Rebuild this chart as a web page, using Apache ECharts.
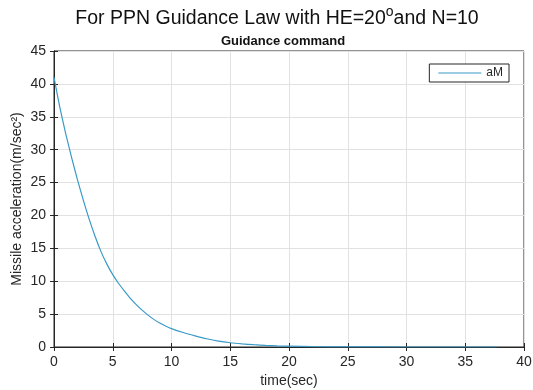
<!DOCTYPE html>
<html>
<head>
<meta charset="utf-8">
<script src="https://cdn.jsdelivr.net/npm/echarts@6/dist/echarts.min.js"></script>
<style>
  html, body { margin: 0; padding: 0; background: #fff; }
  #chart { width: 533px; height: 390px; }
</style>
</head>
<body>
<div id="chart"></div>
<script>
// values
const timeSec = [0, 0.5, 1, 1.5, 2, 2.5, 3, 3.5, 4, 4.5, 5, 5.5, 6, 6.5, 7, 7.5, 8, 8.5, 9, 9.5, 10, 11, 12, 13, 14, 15, 16, 17, 18, 19, 20, 22, 25, 30, 37.7]
const accel = [41.0, 36.4, 32.4, 28.8, 25.4, 22.3, 19.4, 16.8, 14.5, 12.6, 11.0, 9.65, 8.5, 7.4, 6.45, 5.6, 4.85, 4.2, 3.65, 3.2, 2.8, 2.2, 1.7, 1.25, 0.9, 0.65, 0.48, 0.35, 0.25, 0.17, 0.12, 0.05, 0.02, 0, 0]

const xTicks = { min: 0, max: 40, interval: 5 }
const yTicks = { min: 0, max: 45, interval: 5 }

const ink = '#262626'
const font = '"Liberation Sans", Arial, sans-serif'

const seriesData = timeSec.map((t, i) => [t, accel[i]])

const chart = echarts.init(document.getElementById('chart'))

// shared look for the box axes (matlab style, ticks pointing inward)
const boxAxis = (extra) => ({
	type: 'value',
	axisLine: { show: true, lineStyle: { color: ink, width: 1 } },
	axisTick: { show: true, inside: true, length: 4, lineStyle: { color: ink } },
	...extra,
})

chart.setOption({
	animation: false,
	textStyle: { fontFamily: font },
	title: [
		{
			text: '{a|For PPN Guidance Law with HE=20}{s|o}{a|and N=10}',
			left: 272,
			top: 0,
			textAlign: 'center',
			textStyle: {
				fontWeight: 'normal',
				rich: {
					a: { fontSize: 19.5, fontWeight: 'normal', color: '#111', fontFamily: font, lineHeight: 24, verticalAlign: 'bottom' },
					s: { fontSize: 14, fontWeight: 'normal', color: '#111', fontFamily: font, lineHeight: 24, verticalAlign: 'top', padding: [0, 0, 8, 0] },
				},
			},
		},
		{
			text: 'Guidance command',
			left: 278,
			top: 30,
			textAlign: 'center',
			textStyle: { fontSize: 13, fontWeight: 'bold', color: '#111', fontFamily: font },
		},
	],
	legend: {
		data: ['aM'],
		right: 24,
		top: 64,
		orient: 'vertical',
		backgroundColor: '#fff',
		borderColor: ink,
		borderWidth: 1,
		borderRadius: 0,
		padding: [3, 6, 3, 9],
		itemWidth: 43,
		itemHeight: 10,
		itemGap: 4,
		icon: 'path://M0,5 L43,5 L43,6 L0,6 Z',
		textStyle: { fontSize: 12, color: ink, fontFamily: font },
	},
	grid: {
		left: 54,
		right: 9,
		top: 51,
		bottom: 43,
		outerBoundsMode: 'none',
		show: true,
		borderColor: ink,
		borderWidth: 1,
		backgroundColor: '#fff',
	},
	xAxis: [
		boxAxis({
			...xTicks,
			position: 'bottom',
			name: 'time(sec)',
			nameLocation: 'middle',
			nameGap: 27,
			nameMoveOverlap: false,
			nameTextStyle: { fontSize: 14, color: ink, fontFamily: font },
			axisLabel: { fontSize: 14, color: ink, margin: 8, fontFamily: font },
			splitLine: { show: true, lineStyle: { color: '#e1e1e1', width: 1 } },
		}),
		boxAxis({
			...xTicks,
			position: 'top',
			axisLabel: { show: false },
			splitLine: { show: false },
		}),
	],
	yAxis: [
		boxAxis({
			...yTicks,
			position: 'left',
			name: 'Missile acceleration(m/sec²)',
			nameLocation: 'middle',
			nameGap: 30,
			nameMoveOverlap: false,
			nameTextStyle: { fontSize: 14, color: ink, fontFamily: font },
			axisLabel: { fontSize: 14, color: ink, margin: 8, fontFamily: font },
			splitLine: { show: true, lineStyle: { color: '#e1e1e1', width: 1 } },
		}),
		boxAxis({
			...yTicks,
			position: 'right',
			axisLabel: { show: false },
			splitLine: { show: false },
		}),
	],
	series: [
		{
			name: 'aM',
			type: 'line',
			data: seriesData,
			showSymbol: false,
			smooth: 0.2,
			lineStyle: { color: '#3a9ac6', width: 1.2 },
			itemStyle: { color: '#3a9ac6' },
		},
	],
})
</script>
</body>
</html>
